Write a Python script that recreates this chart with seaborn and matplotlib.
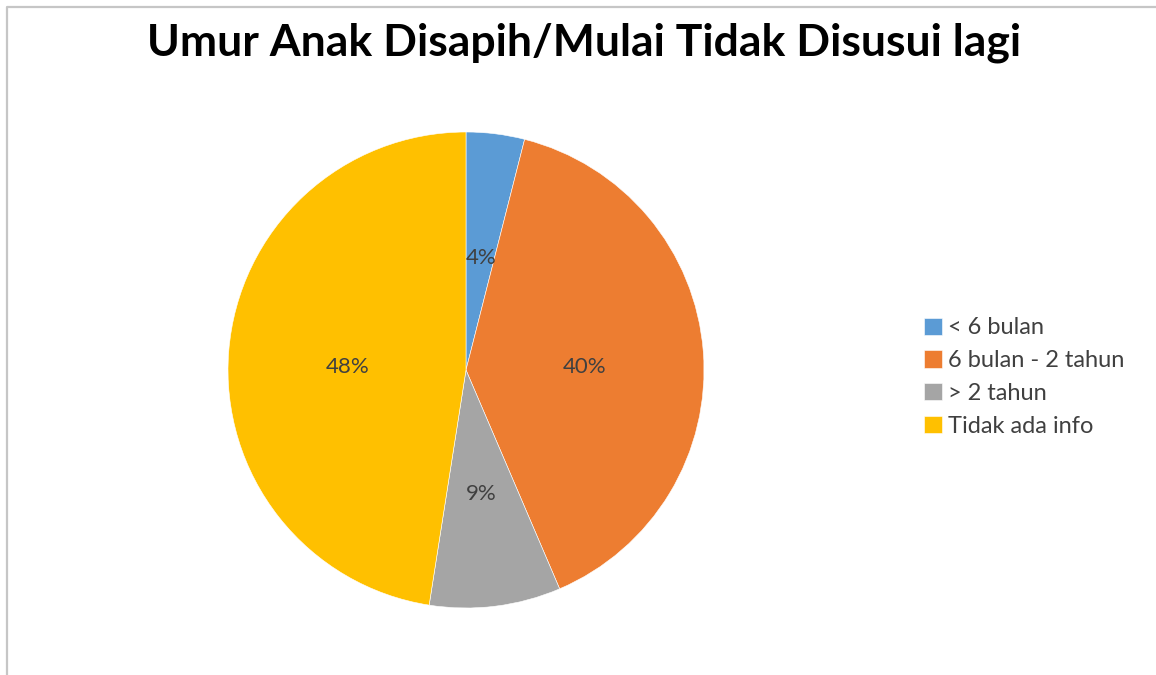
import matplotlib
matplotlib.use("Agg")
import matplotlib.pyplot as plt
import matplotlib.transforms as mtransforms
from matplotlib.lines import Line2D
import seaborn as sns

categories = ["< 6 bulan", "6 bulan - 2 tahun", "> 2 tahun", "Tidak ada info"]
values = [4, 40, 9, 48]
title = "Umur Anak Disapih/Mulai Tidak Disusui lagi"

sns.set_theme(style="white")
plt.rcParams["font.family"] = ["Lato", "DejaVu Sans"]
colors = sns.color_palette(["#5B9BD5", "#ED7D31", "#A5A5A5", "#FFC000"])

W, H = 1156, 675
fig = plt.figure(figsize=(W / 100, H / 100), dpi=100)
fig.patch.set_facecolor("white")

# chart frame (left and top edges)
fig.add_artist(Line2D([7 / W, 7 / W, 1.0], [0.0, 1 - 7 / H, 1 - 7 / H],
                      transform=fig.transFigure, color="#c6c6c6", lw=1.6))

cx, cy, r = 466, 370, 238
ax = fig.add_axes([(cx - r) / W, (H - cy - r) / H, 2 * r / W, 2 * r / H])
wedges, _, autotexts = ax.pie(
    values, colors=colors, startangle=90, counterclock=False,
    autopct="%.0f%%", pctdistance=0.5, radius=1,
    wedgeprops=dict(linewidth=0.4, edgecolor="white"),
    textprops=dict(color="#404040", fontsize=16),
)
# nudge the percentage labels slightly downward
for t in autotexts:
    t.set_transform(mtransforms.offset_copy(ax.transData, fig=fig, x=0, y=-6, units="dots"))
ax.set_xlim(-1, 1)
ax.set_ylim(-1, 1)
ax.set_axis_off()

fig.text(584 / W, 1 - 43 / H, title, ha="center", va="center",
         fontsize=32, fontweight="bold", color="black")

fig.legend(wedges, categories, loc="upper left",
           bbox_to_anchor=(915 / W, 1 - 308 / H), frameon=False,
           fontsize=17, handlelength=0.75, handleheight=0.75,
           handletextpad=0.25, labelspacing=0.5, borderaxespad=0,
           labelcolor="#404040")

fig.savefig("out.png", dpi=100, facecolor="white")
